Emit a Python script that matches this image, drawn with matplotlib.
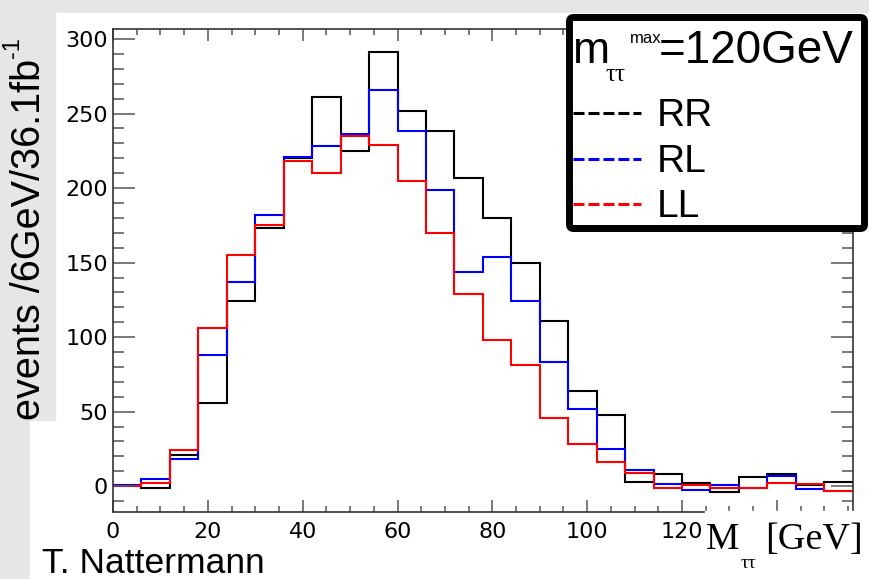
import numpy as np
import matplotlib
matplotlib.use("Agg")
import matplotlib.pyplot as plt
from matplotlib.patches import Rectangle, FancyBboxPatch
from matplotlib.ticker import MultipleLocator

# 6 GeV bins of M_tautau, 36.1 fb^-1
bin_edges = np.arange(0, 157, 6)
rr = [0, -1, 21, 56, 124, 173, 220, 261, 225, 291, 252, 238, 207, 180,
      150, 111, 64, 48, 3, 8, 2, -4, 6, 8, 1, 3]
rl = [0.5, 5, 18, 88, 137, 182, 221, 228, 236, 266, 238, 199, 144, 154,
      124, 83, 52, 25, 11, 1.5, -2.5, 1, -1, 7, -2, -3.5]
ll = [0, 2, 24, 106, 155, 175, 218, 210, 235, 229, 205, 170, 129, 98,
      81, 46, 28, 16, 9, -1, 1, -1, -1, 2, 1.5, -3]
labels = ['RR', 'RL', 'LL']
colors = ['black', '#0000ff', '#ff0000']
x_ticks = [0, 20, 40, 60, 80, 100, 120, 140]
x_ticklabels = ['0', '20', '40', '60', '80', '100', '120', '']

W, H = 870, 579
fig = plt.figure(figsize=(W / 100, H / 100), dpi=100)
fig.patch.set_facecolor('#e6e6e6')

def overlay(z):
    a = fig.add_axes([0, 0, 1, 1], zorder=z)
    a.set_xlim(0, W)
    a.set_ylim(H, 0)
    a.axis('off')
    return a

# slide background: white picture area and the grey y-title box
bg = overlay(0)
bg.add_patch(Rectangle((30, 13), W - 30, H - 13, color='white'))
bg.add_patch(Rectangle((0, 13), 55, 407, color='#e6e6e6'))
bg.text(29, 420, 'events /6GeV/36.1fb', rotation=90, ha='center',
        va='bottom', fontsize=28.5, family='Liberation Sans')
bg.text(13, 58, '-1', rotation=90, ha='center', va='bottom', fontsize=17,
        family='Liberation Sans')

# histogram frame
x0, x1, y0, y1 = 113, 852.7, 29.3, 512.3
ax = fig.add_axes([x0 / W, 1 - y1 / H, (x1 - x0) / W, (y1 - y0) / H], zorder=1)
for vals, c in zip([rr, rl, ll], colors):
    ax.stairs(vals, bin_edges, baseline=None, color=c, lw=1.5)
ax.set_xlim(0, 156)
ax.set_ylim(-17.5, 306.5)
ax.set_xticks(x_ticks, x_ticklabels)
ax.xaxis.set_minor_locator(MultipleLocator(5))
ax.yaxis.set_major_locator(MultipleLocator(50))
ax.yaxis.set_minor_locator(MultipleLocator(10))
ax.tick_params(which='both', direction='in', top=True, right=True,
               color='#555555', width=1.1, labelsize=16)
ax.tick_params(axis='x', which='major', length=8.5, pad=7)
ax.tick_params(axis='x', which='minor', length=4.5)
ax.tick_params(axis='y', which='major', length=15.5, pad=3.5)
ax.tick_params(axis='y', which='minor', length=8)
for s in ax.spines.values():
    s.set_color('#333333')
    s.set_linewidth(1.2)

# legend, axis title and credit
fg = overlay(2)
fg.add_patch(FancyBboxPatch((569.5, 17.5), 295, 211,
                            boxstyle='round,pad=0,rounding_size=4',
                            lw=5, ec='black', fc='white'))
fg.text(573, 63, 'm', fontsize=32, family='Liberation Sans', va='baseline')
fg.text(605, 81, 'ττ', fontsize=18, family='Liberation Serif', va='baseline')
fg.text(630, 43, 'max', fontsize=12, family='Liberation Sans', va='baseline')
fg.text(659, 63, '=120GeV', fontsize=33, family='Liberation Sans',
        va='baseline')
for i, (lab, c) in enumerate(zip(labels, colors)):
    yy = 113 + 45.5 * i
    fg.plot([573, 641], [yy, yy], color=c, lw=2.2, ls=(0, (3.6, 1.3)))
    fg.text(657, yy + 13, lab, fontsize=28, family='Liberation Sans',
            va='baseline')

fg.add_patch(Rectangle((705, 511), W - 705, H - 511, color='white'))
fg.text(706, 549, 'M', fontsize=27, family='Liberation Serif', va='baseline')
fg.text(741, 568, 'ττ', fontsize=14, family='Liberation Serif', va='baseline')
fg.text(765, 549, '[GeV]', fontsize=27.5, family='Liberation Serif',
        va='baseline')
fg.text(42, 573, 'T. Nattermann', fontsize=25.5, family='Liberation Sans',
        va='baseline')

fig.savefig('out.png', dpi=100, facecolor=fig.get_facecolor())
